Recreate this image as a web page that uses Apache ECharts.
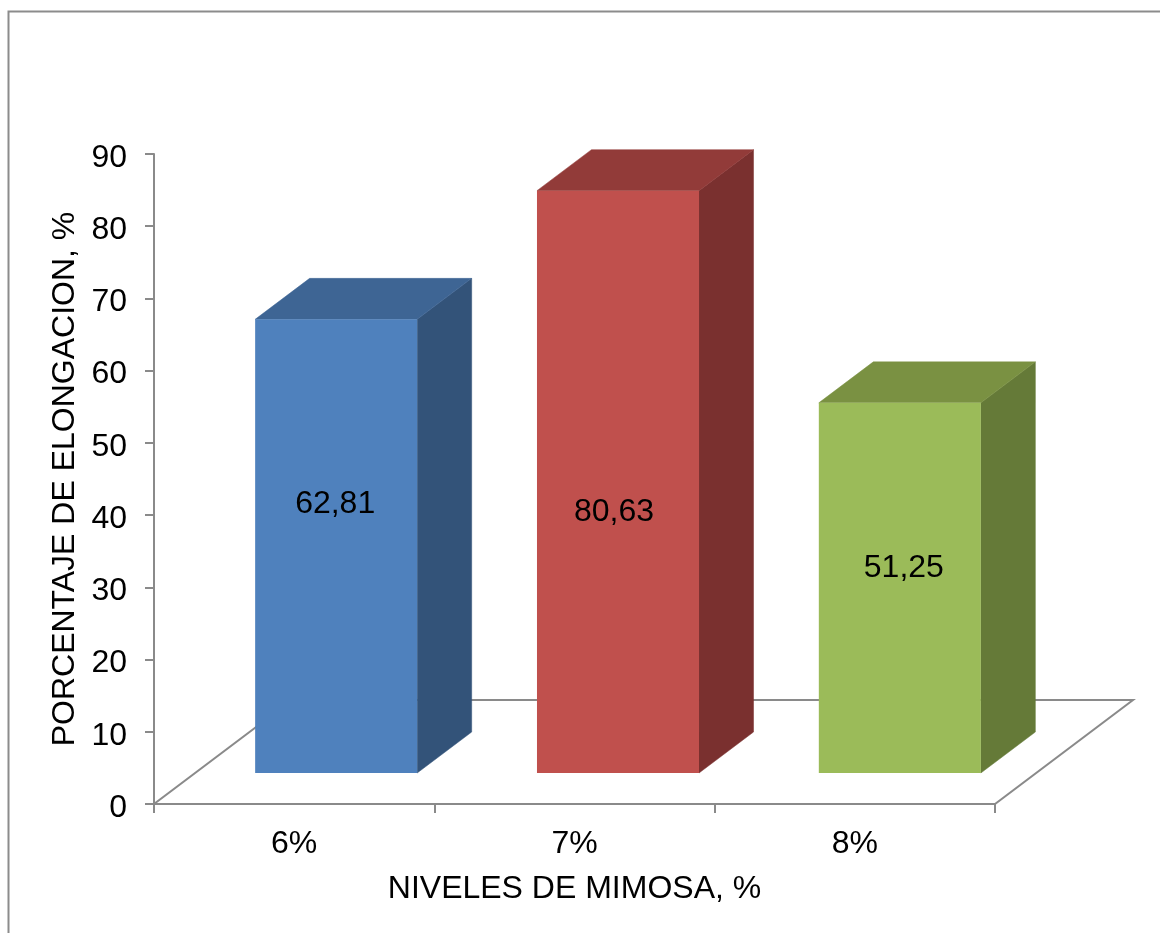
<!DOCTYPE html>
<html>
<head>
<meta charset="utf-8">
<style>html,body{margin:0;padding:0;background:#fff;overflow:hidden}#c{width:1160px;height:933px}</style>
<script src="https://cdn.jsdelivr.net/npm/echarts@6/dist/echarts.min.js"></script>
</head>
<body>
<div id="c"></div>
<script>
const categories = ['6%', '7%', '8%'];
const elongation = [62.81, 80.63, 51.25];
const frontColors = ['#4F81BD', '#C0504D', '#9BBB59'];
const sideColors = ['#335379', '#7A302F', '#657A38'];
const topColors = ['#3E6594', '#923B39', '#7A9142'];
const yTicks = { min: 0, max: 90, interval: 10 };
const xTitle = 'NIVELES DE MIMOSA, %';
const yTitle = 'PORCENTAJE DE ELONGACION, %';

// view styling, kept apart from the data
const FONT = '"Liberation Sans", Arial, sans-serif';
const FONT_SIZE = 32;
const AXIS = '#8a8a8a';
const DEPTH = { floorX: 138, floorY: 104, barX: 54.5, barY: 41, liftX: 42, liftY: 31, widthRatio: 0.578 };
const barNudge = [0, 1.5, 3];
const labelNudge = [[-1, -42], [-4, 30], [4, -20]];

const chart = echarts.init(document.getElementById('c'), null, { renderer: 'canvas' });

function poly(points, fill) {
  return { type: 'polygon', shape: { points }, style: { fill, stroke: fill, lineWidth: 0.5 } };
}

function renderFloor(params, api) {
  const cs = params.coordSys;
  const l = cs.x, r = cs.x + cs.width, b = cs.y + cs.height;
  return {
    type: 'polygon', z2: 0, silent: true,
    shape: { points: [[l, b], [r, b], [r + DEPTH.floorX, b - DEPTH.floorY], [l + DEPTH.floorX, b - DEPTH.floorY]] },
    style: { fill: 'none', stroke: AXIS, lineWidth: 2 }
  };
}

function renderBar(params, api) {
  const i = api.value(0);
  const top = api.coord([i, api.value(1)]);
  const base = api.coord([i, 0]);
  const w = api.size([1, 0])[0] * DEPTH.widthRatio;
  const x0 = top[0] + DEPTH.liftX + barNudge[i] - w / 2, x1 = x0 + w;
  const yT = top[1] - DEPTH.liftY, yB = base[1] - DEPTH.liftY;
  const dx = DEPTH.barX, dy = DEPTH.barY;
  const n = labelNudge[i];
  return {
    type: 'group',
    children: [
      poly([[x1, yT], [x1 + dx, yT - dy], [x1 + dx, yB - dy], [x1, yB]], sideColors[i]),
      poly([[x0, yT], [x0 + dx, yT - dy], [x1 + dx, yT - dy], [x1, yT]], topColors[i]),
      { type: 'rect', shape: { x: x0, y: yT, width: w, height: yB - yT }, style: { fill: frontColors[i] } },
      { type: 'text', z2: 10, style: {
          x: (x0 + x1) / 2 + n[0], y: (yT + yB) / 2 + n[1],
          text: api.value(1).toFixed(2).replace('.', ','),
          fill: '#000', font: FONT_SIZE + 'px ' + FONT, align: 'center', verticalAlign: 'middle' } }
    ]
  };
}

chart.setOption({
  animation: false,
  backgroundColor: '#fff',
  graphic: [{
    type: 'rect', silent: true, z: -1,
    shape: { x: 8.5, y: 11.5, width: 1300, height: 1100 },
    style: { fill: 'none', stroke: '#8c8c8c', lineWidth: 2 }
  }],
  grid: { left: 154, top: 154, width: 841, height: 650 },
  xAxis: {
    type: 'category', data: categories,
    name: xTitle, nameLocation: 'middle', nameGap: 69, nameMoveOverlap: false,
    nameTextStyle: { fontFamily: FONT, fontSize: FONT_SIZE, color: '#000' },
    axisLine: { lineStyle: { color: AXIS, width: 2 } },
    axisTick: { show: true, length: 9, lineStyle: { color: AXIS, width: 2 } },
    axisLabel: { fontFamily: FONT, fontSize: FONT_SIZE, color: '#000', margin: 24 }
  },
  yAxis: {
    type: 'value', min: yTicks.min, max: yTicks.max, interval: yTicks.interval,
    name: yTitle, nameLocation: 'middle', nameGap: 73, nameMoveOverlap: false,
    nameTextStyle: { fontFamily: FONT, fontSize: FONT_SIZE, color: '#000' },
    splitLine: { show: false },
    axisLine: { show: true, lineStyle: { color: AXIS, width: 2 } },
    axisTick: { show: true, length: 9, lineStyle: { color: AXIS, width: 2 } },
    axisLabel: { fontFamily: FONT, fontSize: FONT_SIZE, color: '#000', margin: 27, verticalAlign: 'top', lineHeight: 8 }
  },
  series: [
    { type: 'custom', z: 1, renderItem: renderFloor, data: [[0, 0]], silent: true, encode: { x: 0, y: 1 } },
    { type: 'custom', z: 2, renderItem: renderBar, clip: false, encode: { x: 0, y: 1 },
      data: elongation.map((v, i) => [i, v]) }
  ]
});
</script>
</body>
</html>
